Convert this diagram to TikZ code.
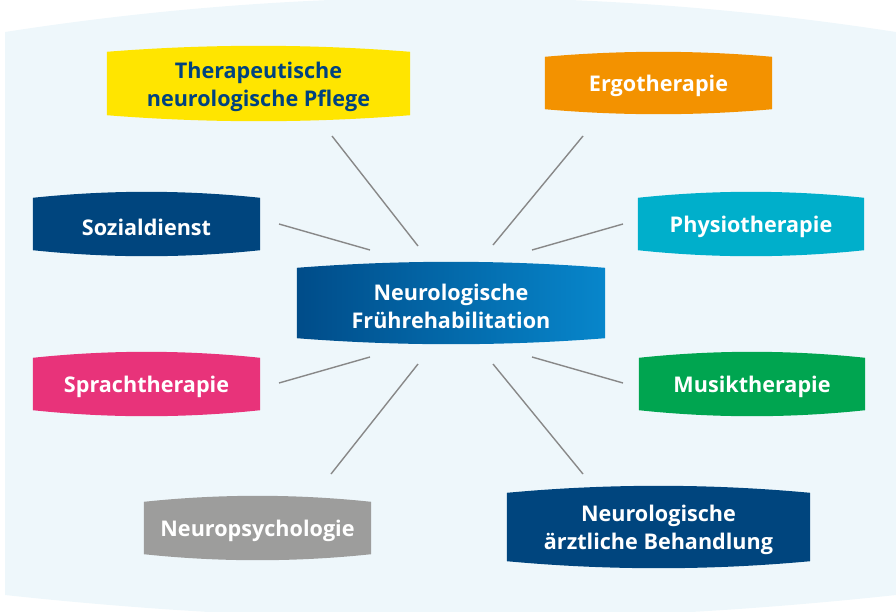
\documentclass[tikz,border=0pt]{standalone}
\usepackage{fontspec}
\setmainfont{Open Sans}
\usetikzlibrary{calc}
\pgfdeclarelayer{background}
\pgfdeclarelayer{back0}
\pgfsetlayers{back0,background,main}
\definecolor{bgblue}{HTML}{EEF7FB}
\definecolor{cyellow}{HTML}{FFE500}
\definecolor{corange}{HTML}{F39200}
\definecolor{cdark}{HTML}{00457E}
\definecolor{ccyan}{HTML}{00AFCB}
\definecolor{cpink}{HTML}{E8337A}
\definecolor{cgreen}{HTML}{00A550}
\definecolor{cgrey}{HTML}{9D9D9C}
\definecolor{cgradL}{HTML}{004C89}
\definecolor{cgradR}{HTML}{0786CB}
\definecolor{clink}{HTML}{888888}
\definecolor{ctextdark}{HTML}{00427F}
% shape drawn 3pt above the text node frame (text sits slightly low in the box)
\newcommand\bulgeshape[3]{%
  \coordinate (bnw) at ($(#1.north west)+(0,-3)$);
  \coordinate (bne) at ($(#1.north east)+(0,-3)$);
  \coordinate (bsw) at ($(#1.south west)+(0,-3)$);
  \coordinate (bse) at ($(#1.south east)+(0,-3)$);
  \path[#2] (bnw)
    .. controls ($(bnw)!1/3!(bne)+(0,-#3*4/3)$) and ($(bnw)!2/3!(bne)+(0,-#3*4/3)$) .. (bne)
    -- (bse)
    .. controls ($(bsw)!2/3!(bse)+(0,#3*4/3)$) and ($(bsw)!1/3!(bse)+(0,#3*4/3)$) .. (bsw)
    -- cycle;}
\tikzset{
  box/.style={inner sep=0pt, align=center, text=white,
    font=\fontsize{21.6}{28}\selectfont\bfseries},
  link/.style={draw=clink, line width=1.4pt}
}
\begin{document}
\begin{tikzpicture}[x=1pt,y=-1pt]
\useasboundingbox (0,0) rectangle (896,611);
\begin{pgfonlayer}{back0}
\fill[bgblue] (5,32) .. controls (300,-14) and (600,-14) .. (896,32) -- (896,595)
  .. controls (600,627) and (300,627) .. (5,595) -- cycle;
\end{pgfonlayer}
\node[box, text=ctextdark, minimum width=303pt, minimum height=63pt] (ther) at (258.5,86.5) {Therapeutische\\neurologische Pflege};
\node[box, minimum width=227pt, minimum height=52pt] (ergo) at (658.5,86) {Ergotherapie};
\node[box, minimum width=227pt, minimum height=52pt] (sozial) at (146.5,227) {Sozialdienst};
\node[box, minimum width=226pt, minimum height=52pt] (physio) at (751,227) {Physiotherapie};
\node[box, minimum width=308pt, minimum height=70pt] (center) at (451,306) {Neurologische\\Frührehabilitation};
\node[box, minimum width=227pt, minimum height=52pt] (sprach) at (146.5,387) {Sprachtherapie};
\node[box, minimum width=226pt, minimum height=52pt] (musik) at (752,387) {Musiktherapie};
\node[box, minimum width=227pt, minimum height=52pt] (psych) at (257.5,531) {Neuropsychologie};
\node[box, minimum width=303pt, minimum height=68pt] (arzt) at (658.5,530) {Neurologische\\ärztliche Behandlung};
\begin{pgfonlayer}{background}
\bulgeshape{ther}{fill=cyellow}{6}
\bulgeshape{ergo}{fill=corange}{5}
\bulgeshape{sozial}{fill=cdark}{6}
\bulgeshape{physio}{fill=ccyan}{6}
\bulgeshape{center}{left color=cgradL,right color=cgradR}{6}
\bulgeshape{sprach}{fill=cpink}{6}
\bulgeshape{musik}{fill=cgreen}{6}
\bulgeshape{psych}{fill=cgrey}{6}
\bulgeshape{arzt}{fill=cdark}{7}
\end{pgfonlayer}
\coordinate (l1a) at (332,136); \coordinate (l1b) at (418,246);
\coordinate (l2a) at (583,136); \coordinate (l2b) at (493,245);
\coordinate (l3a) at (279,224); \coordinate (l3b) at (370,250);
\coordinate (l4a) at (623,224); \coordinate (l4b) at (532,250);
\coordinate (l5a) at (279,383); \coordinate (l5b) at (370,357);
\coordinate (l6a) at (623,383); \coordinate (l6b) at (532,357);
\coordinate (l7a) at (331,474); \coordinate (l7b) at (418,364);
\coordinate (l8a) at (583,474); \coordinate (l8b) at (493,364);
\foreach \i in {1,...,8} { \draw[link] (l\i a) -- (l\i b); }
\end{tikzpicture}
\end{document}
